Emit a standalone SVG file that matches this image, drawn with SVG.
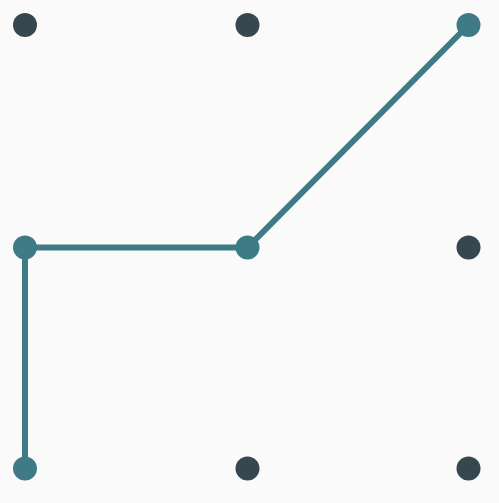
<svg xmlns="http://www.w3.org/2000/svg" width="499" height="503" viewBox="0 0 499 503">
<style>
.dot{fill:#37474F}
.on{fill:#3E7B86}
.path{fill:none;stroke:#3E7B86;stroke-width:6;stroke-linejoin:miter}
</style>
<rect width="499" height="503" fill="#FAFAFA"/>
<g id="connectors">
<polyline class="path" points="25,468.5 25,247.5 247.5,247.5 468.5,25"/>
</g>
<g id="n1"><circle class="dot" cx="25" cy="25" r="12"/></g>
<g id="n2"><circle class="dot" cx="247.5" cy="25" r="12"/></g>
<g id="n3"><circle class="on" cx="468.5" cy="25" r="12"/></g>
<g id="n4"><circle class="on" cx="25" cy="247.5" r="12"/></g>
<g id="n5"><circle class="on" cx="247.5" cy="247.5" r="12"/></g>
<g id="n6"><circle class="dot" cx="468.5" cy="247.5" r="12"/></g>
<g id="n7"><circle class="on" cx="25" cy="468.5" r="12"/></g>
<g id="n8"><circle class="dot" cx="247.5" cy="468.5" r="12"/></g>
<g id="n9"><circle class="dot" cx="468.5" cy="468.5" r="12"/></g>
</svg>
